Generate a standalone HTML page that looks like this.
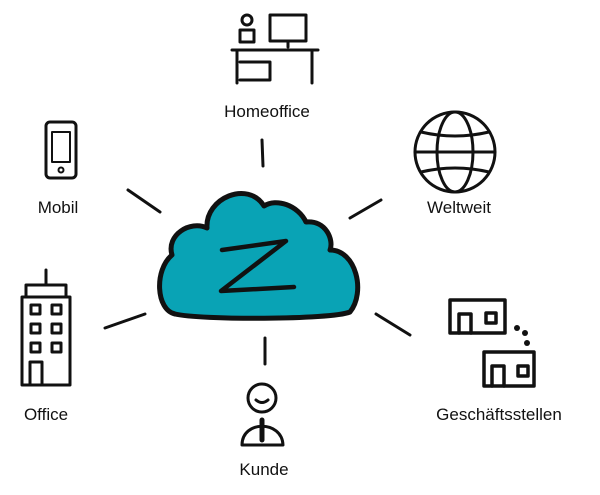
<!DOCTYPE html><html><head><style>body{margin:0;background:#fff}svg{display:block}text{font-family:"Liberation Sans",sans-serif;font-size:17px;fill:#111;text-anchor:middle}</style></head><body>
<svg width="600" height="495" viewBox="0 0 600 495" fill="none" stroke="#111" stroke-width="3.5" stroke-linecap="round" stroke-linejoin="round">
<path d="M175,314 C156,310 154,270 172,255 C166,235 190,220 207,228 C205,198 248,180 264,206 C276,198 298,205 306,222 C326,220 334,240 330,250 C356,250 366,292 350,312 C330,320 200,320 175,314 Z" fill="#09a3b5" stroke-width="5"/>
<path d="M222,250 L286,241 L221,291 L294,287" stroke-width="4.5"/>
<g stroke-width="3">
<line x1="262" y1="140" x2="263" y2="166"/><line x1="128" y1="190" x2="160" y2="212"/><line x1="381" y1="200" x2="350" y2="218"/>
<line x1="105" y1="328" x2="145" y2="314"/><line x1="376" y1="314" x2="410" y2="335"/><line x1="265" y1="338" x2="265" y2="364"/>
</g>
<g stroke-width="3"><rect x="270" y="15" width="36" height="26"/><line x1="288" y1="41" x2="288" y2="47"/><path d="M232,50 H318 M237,50 V83 M312,50 V83 M240,62 H270 V80 H240"/><rect x="240" y="30" width="14" height="12"/><circle cx="247" cy="20" r="5"/></g>
<rect x="46" y="122" width="30" height="56" rx="4" stroke-width="3"/><rect x="52" y="132" width="18" height="30" stroke-width="2"/><circle cx="61" cy="170" r="2.5" stroke-width="2"/>
<g stroke-width="3"><circle cx="455" cy="152" r="40"/><ellipse cx="455" cy="152" rx="18" ry="40"/><line x1="415" y1="152" x2="495" y2="152"/><path d="M421,132 Q455,140 489,132 M421,172 Q455,164 489,172"/></g>
<g stroke-width="3"><rect x="22" y="297" width="48" height="88"/><path d="M26,297 V285 H66 V297 M46,285 V270"/><rect x="31" y="305" width="9" height="9"/><rect x="52" y="305" width="9" height="9"/><rect x="31" y="324" width="9" height="9"/><rect x="52" y="324" width="9" height="9"/><rect x="31" y="343" width="9" height="9"/><rect x="52" y="343" width="9" height="9"/><path d="M30,385 V362 H42 V385"/></g>
<g stroke-width="3"><circle cx="262" cy="398" r="14"/><path d="M242,445 C242,420 282,420 283,445 Z"/><path d="M262,420 V440" stroke-width="5"/><path d="M256,400 Q262,405 268,400"/></g>
<g stroke-width="3.5"><rect x="450" y="300" width="55" height="33"/><path d="M459,333 V314 H471 V333"/><rect x="486" y="313" width="10" height="10"/><rect x="484" y="352" width="50" height="34"/><path d="M492,386 V366 H504 V386"/><rect x="518" y="366" width="10" height="10"/></g>
<g fill="#111" stroke="none"><circle cx="517" cy="328" r="3"/><circle cx="525" cy="333" r="3"/><circle cx="527" cy="343" r="3"/></g>
<g stroke="none">
<text x="267" y="117">Homeoffice</text><text x="58" y="213">Mobil</text><text x="459" y="213">Weltweit</text>
<text x="46" y="420">Office</text><text x="264" y="475">Kunde</text><text x="499" y="420">Geschäftsstellen</text>
</g>
</svg></body></html>
